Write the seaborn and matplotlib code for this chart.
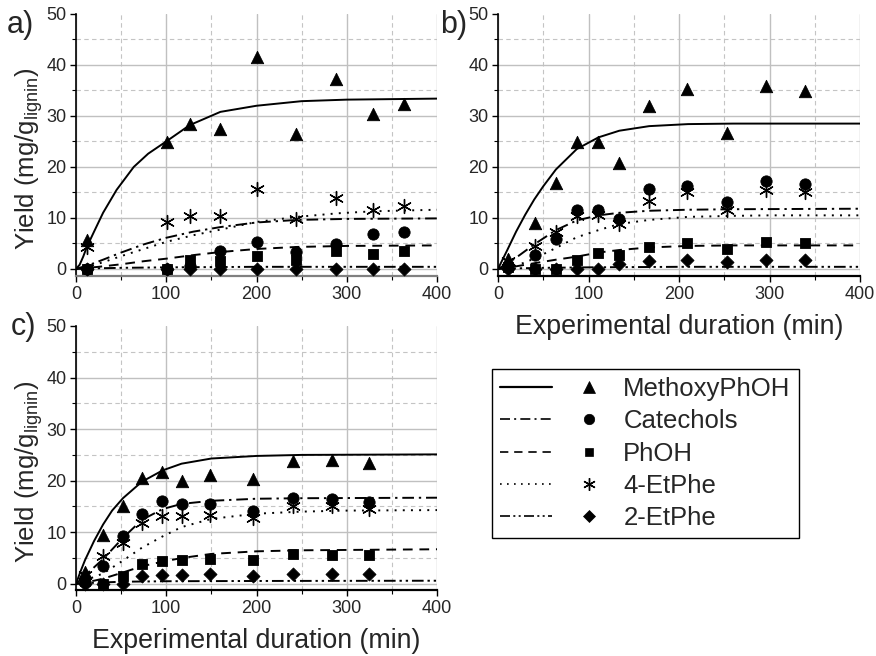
import matplotlib
matplotlib.use("Agg")
import matplotlib.pyplot as plt
from matplotlib.lines import Line2D
from matplotlib.legend_handler import HandlerTuple
from matplotlib.ticker import MultipleLocator
import seaborn as sns
import pandas as pd

# ---------------- data ----------------
compounds = ["MethoxyPhOH", "Catechols", "PhOH", "4-EtPhe", "2-EtPhe"]

# panel a) measured points
t_a = [12.6, 101, 126, 160, 200, 244, 288, 329, 363]
methoxy_a = [5.6, 24.9, 28.4, 27.5, 41.5, 26.4, 37.3, 30.3, 32.4]
catechol_a = [0.0, 0.0, 0.5, 3.5, 5.2, 3.3, 4.8, 6.8, 7.3]
phoh_a = [0.0, 0.0, 1.7, 1.5, 2.5, 1.8, 3.5, 3.0, 3.5]
etphe4_a = [4.3, 9.1, 10.3, 10.3, 15.6, 9.7, 14.0, 11.5, 12.4]
etphe2_a = [0.0, 0.0, 0.0, 0.0, 0.0, 0.0, 0.0, 0.0, 0.0]

# panel a) fitted curves (read off the picture)
fit_methoxy_a_x = [0, 4, 8, 12, 20, 30, 45, 64, 80, 100, 126, 160, 200, 250, 300, 400]
fit_methoxy_a_y = [0, 0.8, 2.4, 4.3, 7.3, 11, 15.5, 20, 22.6, 25, 28.2, 30.8, 32, 32.9, 33.2, 33.4]
fit_catechol_a_x = [0, 15, 30, 50, 75, 100, 130, 160, 200, 245, 300, 400]
fit_catechol_a_y = [0, 0.8, 1.8, 3.2, 4.8, 6.1, 7.3, 8.2, 9.1, 9.6, 9.8, 9.9]
fit_phoh_a_x = [0, 25, 50, 75, 100, 130, 160, 200, 245, 300, 400]
fit_phoh_a_y = [0, 0.4, 0.9, 1.5, 2.0, 2.7, 3.3, 3.9, 4.3, 4.5, 4.6]
fit_etphe4_a_x = [0, 15, 30, 50, 75, 100, 130, 160, 200, 245, 290, 330, 400]
fit_etphe4_a_y = [0, 0.5, 1.3, 2.5, 3.9, 5.3, 6.6, 7.7, 9.2, 10.2, 10.9, 11.3, 11.6]
fit_etphe2_a_x = [0, 20, 50, 100, 150, 200, 300, 400]
fit_etphe2_a_y = [0, 0.1, 0.2, 0.3, 0.35, 0.4, 0.4, 0.4]

# panel b) measured points
t_b = [10.7, 40.5, 63.7, 87.2, 111, 134, 167, 209, 253.5, 296, 339.6]
methoxy_b = [2.0, 9.0, 16.9, 24.8, 24.9, 20.8, 31.9, 35.2, 26.6, 35.9, 34.8]
catechol_b = [0.3, 2.7, 5.9, 11.6, 11.5, 9.7, 15.7, 16.2, 13.2, 17.2, 16.7]
phoh_b = [0.3, 0.0, 0.0, 1.8, 3.2, 2.7, 4.3, 5.0, 3.9, 5.3, 5.1]
etphe4_b = [1.5, 4.4, 7.2, 10.3, 10.5, 8.8, 13.3, 15.0, 11.5, 15.5, 15.0]
etphe2_b = [0.0, 0.0, 0.0, 0.0, 0.0, 0.9, 1.6, 1.8, 1.3, 1.8, 1.7]

# panel b) fitted curves
fit_methoxy_b_x = [0, 5, 10, 20, 30, 40, 50, 64, 87, 111, 134, 167, 210, 260, 400]
fit_methoxy_b_y = [0, 1.8, 3.6, 7.3, 10.6, 13.6, 16.2, 19.5, 23.5, 25.8, 27.1, 28, 28.4, 28.5, 28.5]
fit_catechol_b_x = [0, 10, 20, 40, 64, 87, 111, 134, 167, 210, 260, 400]
fit_catechol_b_y = [0, 1.0, 2.2, 4.8, 7.6, 9.5, 10.5, 11.0, 11.4, 11.6, 11.7, 11.8]
fit_phoh_b_x = [0, 20, 40, 64, 87, 111, 134, 167, 210, 260, 400]
fit_phoh_b_y = [0, 0.5, 1.1, 1.8, 2.4, 3.2, 3.7, 4.2, 4.5, 4.6, 4.6]
fit_etphe4_b_x = [0, 20, 40, 64, 87, 111, 134, 167, 210, 260, 300, 400]
fit_etphe4_b_y = [0, 0.6, 2.0, 4.1, 6.2, 7.6, 8.8, 9.6, 10.2, 10.4, 10.5, 10.5]
fit_etphe2_b_x = [0, 20, 50, 100, 150, 200, 400]
fit_etphe2_b_y = [0, 0.1, 0.2, 0.3, 0.35, 0.4, 0.4]

# panel c) measured points
t_c = [10, 29.5, 51.7, 72.7, 95.6, 117, 149, 196, 240.6, 283.8, 324.7]
methoxy_c = [2.2, 9.5, 15.1, 20.6, 21.6, 20.0, 21.1, 20.3, 23.9, 24.0, 23.4]
catechol_c = [0.3, 3.4, 9.2, 13.6, 16.1, 15.5, 15.4, 14.2, 16.6, 16.5, 15.8]
phoh_c = [0.5, 0.0, 1.5, 3.9, 4.5, 4.6, 4.9, 4.7, 5.7, 5.6, 5.5]
etphe4_c = [1.8, 5.3, 7.9, 11.8, 13.1, 13.2, 13.4, 12.7, 15.1, 15.0, 14.6]
etphe2_c = [0.0, 0.0, 0.0, 1.5, 1.8, 1.8, 1.9, 1.6, 2.0, 1.9, 1.9]

# panel c) fitted curves
fit_methoxy_c_x = [0, 5, 10, 20, 30, 40, 52, 73, 96, 117, 150, 200, 250, 400]
fit_methoxy_c_y = [0, 2.4, 4.6, 8.3, 11.5, 14.2, 16.6, 19.8, 22, 23.3, 24.3, 24.8, 25, 25.1]
fit_catechol_c_x = [0, 10, 20, 30, 52, 73, 96, 117, 150, 200, 250, 400]
fit_catechol_c_y = [0, 1.6, 3.2, 4.8, 8.9, 12.4, 14.5, 15.5, 16.1, 16.5, 16.6, 16.7]
fit_phoh_c_x = [0, 20, 30, 52, 73, 96, 117, 150, 200, 250, 400]
fit_phoh_c_y = [0, 0.6, 1.0, 2.2, 3.4, 4.3, 5.0, 5.8, 6.3, 6.5, 6.7]
fit_etphe4_c_x = [0, 30, 52, 73, 96, 117, 150, 200, 250, 300, 400]
fit_etphe4_c_y = [0, 2.0, 4.5, 7.0, 9.2, 11.0, 12.6, 13.6, 14.0, 14.2, 14.3]
fit_etphe2_c_x = [0, 20, 50, 100, 200, 400]
fit_etphe2_c_y = [0, 0.2, 0.4, 0.5, 0.55, 0.6]

x_ticks = [0, 100, 200, 300, 400]
y_ticks = [0, 10, 20, 30, 40, 50]

# ---------------- style ----------------
sns.set_theme(style="white")
plt.rcParams["font.family"] = ["Liberation Sans", "DejaVu Sans"]
plt.rcParams["mathtext.default"] = "regular"

marker_style = {
    "MethoxyPhOH": dict(marker="^", s=80),
    "Catechols": dict(marker="o", s=66),
    "PhOH": dict(marker="s", s=46),
    "4-EtPhe": dict(marker=(6, 2, 0), s=100),
    "2-EtPhe": dict(marker="D", s=44),
}
line_style = {
    "MethoxyPhOH": "-",
    "Catechols": (0, (6, 2.5, 1.2, 2.5)),
    "PhOH": (0, (5, 3.5)),
    "4-EtPhe": (0, (1, 3.2)),
    "2-EtPhe": (0, (6, 2, 1.2, 2, 1.2, 2)),
}

fig = plt.figure(figsize=(8.76, 6.56), dpi=100)
W, H = 876.0, 656.0


def make_ax(left, top, right, bottom):
    return fig.add_axes([left / W, 1 - bottom / H, (right - left) / W, (bottom - top) / H])


ax_a = make_ax(76, 14, 437, 276)
ax_b = make_ax(498, 14, 860, 276)
ax_c = make_ax(76, 326, 437, 590)

panels = [
    (ax_a, t_a, [methoxy_a, catechol_a, phoh_a, etphe4_a, etphe2_a],
     [(fit_methoxy_a_x, fit_methoxy_a_y), (fit_catechol_a_x, fit_catechol_a_y),
      (fit_phoh_a_x, fit_phoh_a_y), (fit_etphe4_a_x, fit_etphe4_a_y),
      (fit_etphe2_a_x, fit_etphe2_a_y)], -1.4, "#808080"),
    (ax_b, t_b, [methoxy_b, catechol_b, phoh_b, etphe4_b, etphe2_b],
     [(fit_methoxy_b_x, fit_methoxy_b_y), (fit_catechol_b_x, fit_catechol_b_y),
      (fit_phoh_b_x, fit_phoh_b_y), (fit_etphe4_b_x, fit_etphe4_b_y),
      (fit_etphe2_b_x, fit_etphe2_b_y)], -1.4, "black"),
    (ax_c, t_c, [methoxy_c, catechol_c, phoh_c, etphe4_c, etphe2_c],
     [(fit_methoxy_c_x, fit_methoxy_c_y), (fit_catechol_c_x, fit_catechol_c_y),
      (fit_phoh_c_x, fit_phoh_c_y), (fit_etphe4_c_x, fit_etphe4_c_y),
      (fit_etphe2_c_x, fit_etphe2_c_y)], -1.2, "black"),
]

for ax, t, series, fits, ymin, bcol in panels:
    # fitted curves
    for name, (fx, fy) in zip(compounds, fits):
        dfl = pd.DataFrame({"t": fx, "y": fy})
        sns.lineplot(data=dfl, x="t", y="y", ax=ax, color="black", lw=1.4,
                     linestyle=line_style[name], estimator=None, sort=False,
                     zorder=3)
    # measured points
    for i, name in enumerate(compounds):
        dfp = pd.DataFrame({"t": t, "y": series[i]})
        st = marker_style[name]
        sns.scatterplot(data=dfp, x="t", y="y", ax=ax, marker=st["marker"],
                        s=st["s"], color="black", edgecolor="black",
                        linewidth=1.0 if name == "4-EtPhe" else 0.6,
                        zorder=4, clip_on=False)

    ax.set_xlim(0, 400)
    ax.set_ylim(ymin, 50)
    ax.set_xticks(x_ticks)
    ax.set_yticks(y_ticks)
    ax.xaxis.set_minor_locator(MultipleLocator(50))
    ax.yaxis.set_minor_locator(MultipleLocator(5))
    ax.grid(which="major", color="#c0c0c0", lw=1.0, ls="-", zorder=0)
    ax.grid(which="minor", color="#c4c4c4", lw=0.8, ls=(0, (4, 3)), zorder=0)
    ax.set_axisbelow(True)
    for sp in ["top", "right"]:
        ax.spines[sp].set_visible(False)
    ax.spines["left"].set_color("black")
    ax.spines["left"].set_linewidth(1.2)
    ax.spines["bottom"].set_color(bcol)
    ax.spines["bottom"].set_linewidth(1.6)
    ax.tick_params(which="major", direction="out", length=4, width=1.0,
                   color="black", labelsize=13, pad=3, left=True, bottom=True)
    ax.tick_params(which="minor", direction="out", length=3, width=0.8,
                   color="black", left=True, bottom=True)
    ax.set_xlabel("")
    ax.set_ylabel("")
    ax.yaxis.get_major_ticks()[-1].gridline.set_visible(False)

for ax in (ax_a, ax_c):
    ax.set_ylabel("Yield (mg/g$_{lignin}$)", fontsize=18.5)
    ax.yaxis.set_label_coords(-0.085, 0.448)
for ax in (ax_b, ax_c):
    ax.set_xlabel("Experimental duration (min)", fontsize=19.3)
    ax.xaxis.set_label_coords(0.5, -0.145)

fig.text(7 / W, 1 - 25 / H, "a)", fontsize=22, va="center", ha="left")
fig.text(440 / W, 1 - 25 / H, "b)", fontsize=22, va="center", ha="left")
fig.text(11 / W, 1 - 327 / H, "c)", fontsize=22, va="center", ha="left")

# legend
handles = []
for name in compounds:
    ln = Line2D([], [], color="black", lw=1.2 if name != "MethoxyPhOH" else 1.6,
                linestyle=line_style[name])
    mk_size = {"MethoxyPhOH": 8, "Catechols": 7.5, "PhOH": 6, "4-EtPhe": 9, "2-EtPhe": 6.5}[name]
    mk = Line2D([], [], color="black", ls="none", marker=marker_style[name]["marker"],
                ms=mk_size, mew=1.0 if name == "4-EtPhe" else 0.5)
    handles.append((ln, mk))

leg = fig.legend(handles, compounds, loc="upper left",
                 bbox_to_anchor=(492 / W, 1 - 369 / H), bbox_transform=fig.transFigure,
                 frameon=True, fancybox=False, edgecolor="black", framealpha=1,
                 fontsize=18.5, borderpad=0.32, borderaxespad=0, handlelength=4.45,
                 handletextpad=0.34, labelspacing=0.32,
                 handler_map={tuple: HandlerTuple(ndivide=None, pad=0.45)})
leg.get_frame().set_linewidth(1.0)

fig.savefig("out.png", dpi=100)
